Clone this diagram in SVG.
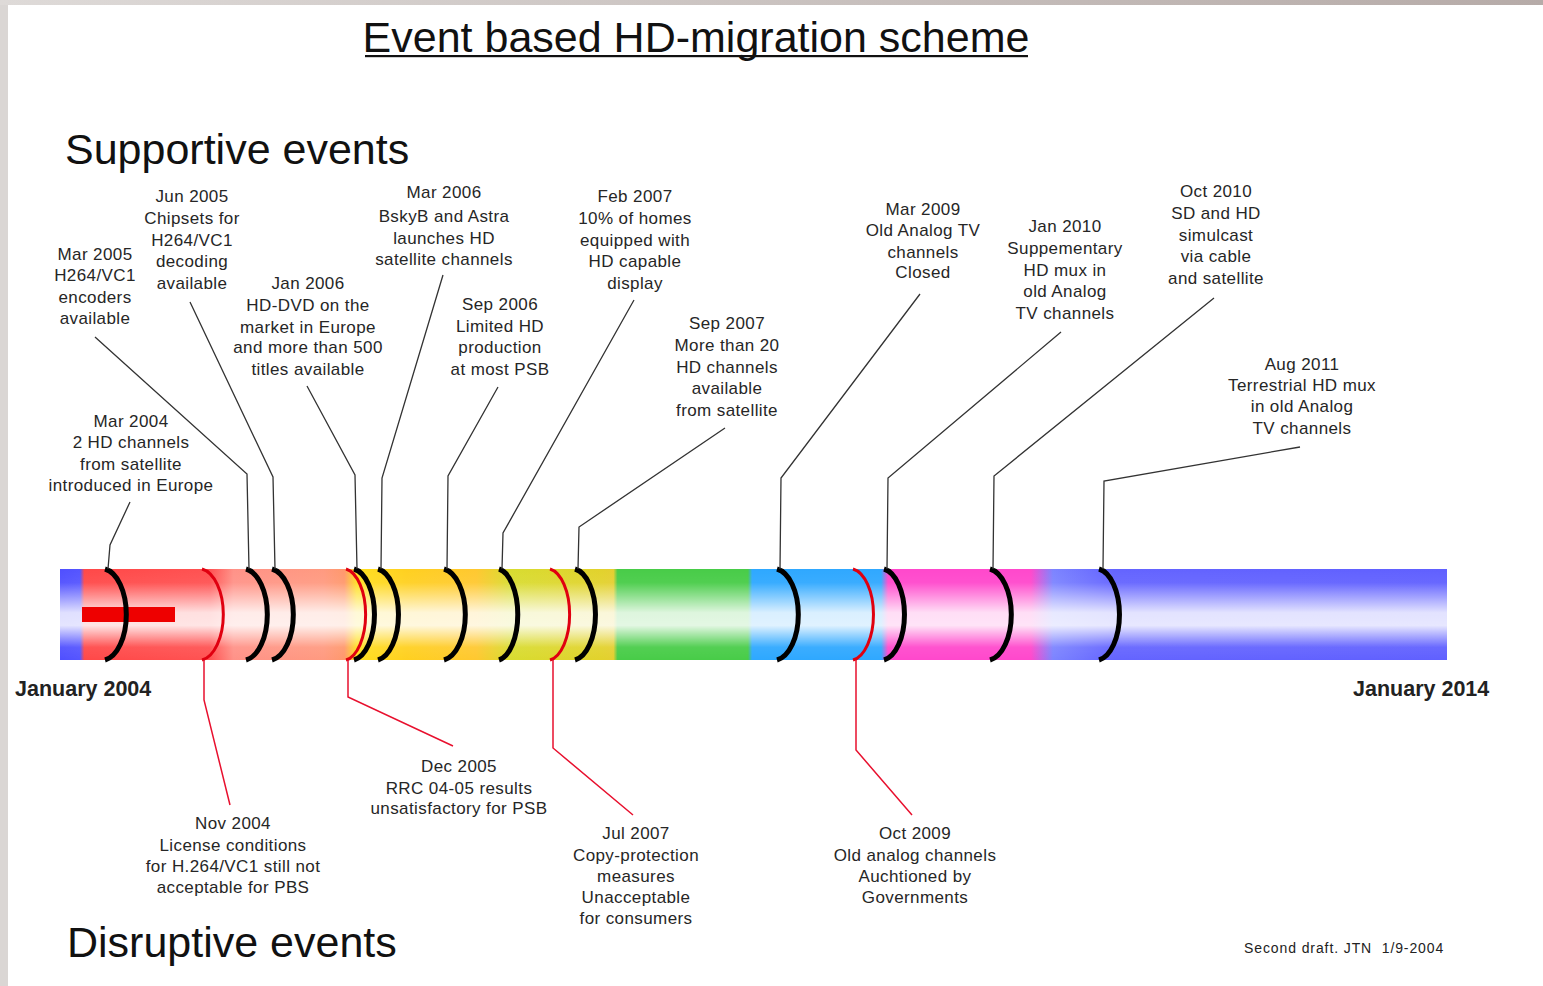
<svg xmlns="http://www.w3.org/2000/svg" width="1543" height="986" viewBox="0 0 1543 986">
  <defs>
    <style>
      .lbl { font-family: "Liberation Sans", Arial, sans-serif; font-size: 17px; letter-spacing: 0.4px; fill: #262626; text-anchor: middle; }
      .head { font-family: "Liberation Sans", Arial, sans-serif; font-size: 43px; fill: #111; }
      .date { font-family: "Liberation Sans", Arial, sans-serif; font-size: 21.5px; font-weight: bold; fill: #222; }
      .note { font-family: "Liberation Sans", Arial, sans-serif; font-size: 14px; letter-spacing: 0.9px; fill: #222; }
      .up { fill: none; stroke: #333; stroke-width: 1.3; }
      .down { fill: none; stroke: #e8102e; stroke-width: 1.5; }
      .arc { fill: none; stroke: #000; stroke-width: 5; }
      .arc-red { fill: none; stroke: #e00010; stroke-width: 3; }
    </style>
    <!-- colour bands of the timeline bar, 2004 to 2014 -->
    <linearGradient id="bands" gradientUnits="userSpaceOnUse" x1="60" y1="0" x2="1447" y2="0">
      <stop offset="0" stop-color="#4f4fff"/>
      <stop offset="0.0145" stop-color="#5555ff"/>
      <stop offset="0.0175" stop-color="#ff4848"/>
      <stop offset="0.108" stop-color="#ff5252"/>
      <stop offset="0.125" stop-color="#ff9288"/>
      <stop offset="0.19" stop-color="#ff9a80"/>
      <stop offset="0.205" stop-color="#ff986c"/>
      <stop offset="0.214" stop-color="#ffe020"/>
      <stop offset="0.25" stop-color="#ffd020"/>
      <stop offset="0.30" stop-color="#ffc830"/>
      <stop offset="0.325" stop-color="#d8dc30"/>
      <stop offset="0.39" stop-color="#e2d22c"/>
      <stop offset="0.399" stop-color="#e4cf30"/>
      <stop offset="0.402" stop-color="#48cc48"/>
      <stop offset="0.496" stop-color="#48cc48"/>
      <stop offset="0.499" stop-color="#2ea8ff"/>
      <stop offset="0.592" stop-color="#30a8ff"/>
      <stop offset="0.597" stop-color="#ff48cc"/>
      <stop offset="0.700" stop-color="#ff48cc"/>
      <stop offset="0.716" stop-color="#7c84ff"/>
      <stop offset="0.76" stop-color="#6464ff"/>
      <stop offset="1" stop-color="#6060ff"/>
    </linearGradient>
    <!-- cylinder highlight across the bar -->
    <linearGradient id="shine" x1="0" y1="0" x2="0" y2="1">
      <stop offset="0" stop-color="#fff" stop-opacity="0"/>
      <stop offset="0.15" stop-color="#fff" stop-opacity="0.05"/>
      <stop offset="0.48" stop-color="#fff" stop-opacity="0.82"/>
      <stop offset="0.62" stop-color="#fff" stop-opacity="0.85"/>
      <stop offset="0.86" stop-color="#fff" stop-opacity="0.06"/>
      <stop offset="1" stop-color="#fff" stop-opacity="0"/>
    </linearGradient>
    <linearGradient id="topEdge" x1="0" y1="0" x2="1" y2="0">
      <stop offset="0" stop-color="#dedad8"/>
      <stop offset="1" stop-color="#b6aba8"/>
    </linearGradient>
  </defs>

  <!-- page frame -->
  <rect x="0" y="0" width="1543" height="986" fill="#dad6d4"/>
  <rect x="0" y="0" width="1543" height="5" fill="url(#topEdge)"/>
  <rect x="8" y="5" width="1535" height="981" fill="#fff"/>

  <!-- title and section headings -->
  <g id="title">
    <text class="head" x="696" y="52" font-size="43.8" text-anchor="middle">Event based HD-migration scheme</text>
    <rect x="365" y="55" width="663" height="2.2" fill="#111"/>
  </g>
  <g id="supportive-heading"><text class="head" x="65" y="164">Supportive events</text></g>
  <g id="disruptive-heading"><text class="head" x="67" y="957">Disruptive events</text></g>

  <!-- timeline bar -->
  <g id="timeline">
    <rect x="60" y="569" width="1387" height="91" fill="url(#bands)"/>
    <rect x="60" y="569" width="1387" height="91" fill="url(#shine)"/>
    <rect x="82" y="607" width="93" height="15" fill="#ee0000"/>
    <text class="date" x="15" y="696">January 2004</text>
    <text class="date" x="1353" y="696">January 2014</text>
  </g>

  <!-- event markers on the bar -->
  <g id="markers">
    <path class="arc" d="M105,569 A25,46 0 0 1 105,660"/>
    <path class="arc" d="M246,569 A25,46 0 0 1 246,660"/>
    <path class="arc" d="M272,569 A25,46 0 0 1 272,660"/>
    <path class="arc" d="M354,569 A24,46 0 0 1 354,660"/>
    <path class="arc" d="M378,569 A24,46 0 0 1 378,660"/>
    <path class="arc" d="M444,569 A25,46 0 0 1 444,660"/>
    <path class="arc" d="M499,569 A22,46 0 0 1 499,660"/>
    <path class="arc" d="M575,569 A24,46 0 0 1 575,660"/>
    <path class="arc" d="M777,569 A25,46 0 0 1 777,660"/>
    <path class="arc" d="M884,569 A24,46 0 0 1 884,660"/>
    <path class="arc" d="M990,569 A25,46 0 0 1 990,660"/>
    <path class="arc" d="M1099,569 A24,46 0 0 1 1099,660"/>
    <path class="arc-red" d="M202,569 A25,46 0 0 1 202,660"/>
    <path class="arc-red" d="M346,569 A23,46 0 0 1 346,660"/>
    <path class="arc-red" d="M550,569 A23,46 0 0 1 550,660"/>
    <path class="arc-red" d="M853,569 A24,46 0 0 1 853,660"/>
  </g>

  <!-- leader lines from labels to the bar -->
  <g id="connectors">
    <path class="up" d="M130,502 L110,545 L108,569"/>
    <path class="up" d="M95,337 L247,474 L249,569"/>
    <path class="up" d="M190,302 L273,477 L275,569"/>
    <path class="up" d="M307,386 L355,475 L357,569"/>
    <path class="up" d="M443,275 L382,478 L381,569"/>
    <path class="up" d="M498,387 L448,476 L447,569"/>
    <path class="up" d="M634,300 L503,533 L502,569"/>
    <path class="up" d="M725,428 L579,527 L578,569"/>
    <path class="up" d="M920,294 L781,478 L780,569"/>
    <path class="up" d="M1061,332 L888,478 L887,569"/>
    <path class="up" d="M1214,298 L994,476 L993,569"/>
    <path class="up" d="M1300,447 L1104,481 L1103,569"/>
    <path class="down" d="M204,660 L204,700 L230,805"/>
    <path class="down" d="M348,660 L348,697 L453,746"/>
    <path class="down" d="M553,660 L553,748 L633,815"/>
    <path class="down" d="M856,660 L856,750 L912,815"/>
  </g>

  <!-- supportive events -->
  <g id="ev-mar2004"><text class="lbl"><tspan x="131" y="427">Mar 2004</tspan><tspan x="131" y="448">2 HD channels</tspan><tspan x="131" y="470">from satellite</tspan><tspan x="131" y="491">introduced in Europe</tspan></text></g>
  <g id="ev-mar2005"><text class="lbl"><tspan x="95" y="260">Mar 2005</tspan><tspan x="95" y="281">H264/VC1</tspan><tspan x="95" y="303">encoders</tspan><tspan x="95" y="324">available</tspan></text></g>
  <g id="ev-jun2005"><text class="lbl"><tspan x="192" y="202">Jun 2005</tspan><tspan x="192" y="224">Chipsets for</tspan><tspan x="192" y="246">H264/VC1</tspan><tspan x="192" y="267">decoding</tspan><tspan x="192" y="289">available</tspan></text></g>
  <g id="ev-jan2006"><text class="lbl"><tspan x="308" y="289">Jan 2006</tspan><tspan x="308" y="311">HD-DVD on the</tspan><tspan x="308" y="333">market in Europe</tspan><tspan x="308" y="353">and more than 500</tspan><tspan x="308" y="375">titles available</tspan></text></g>
  <g id="ev-mar2006"><text class="lbl"><tspan x="444" y="198">Mar 2006</tspan><tspan x="444" y="222">BskyB and Astra</tspan><tspan x="444" y="244">launches HD</tspan><tspan x="444" y="265">satellite channels</tspan></text></g>
  <g id="ev-sep2006"><text class="lbl"><tspan x="500" y="310">Sep 2006</tspan><tspan x="500" y="332">Limited HD</tspan><tspan x="500" y="353">production</tspan><tspan x="500" y="375">at most PSB</tspan></text></g>
  <g id="ev-feb2007"><text class="lbl"><tspan x="635" y="202">Feb 2007</tspan><tspan x="635" y="224">10% of homes</tspan><tspan x="635" y="246">equipped with</tspan><tspan x="635" y="267">HD capable</tspan><tspan x="635" y="289">display</tspan></text></g>
  <g id="ev-sep2007"><text class="lbl"><tspan x="727" y="329">Sep 2007</tspan><tspan x="727" y="351">More than 20</tspan><tspan x="727" y="373">HD channels</tspan><tspan x="727" y="394">available</tspan><tspan x="727" y="416">from satellite</tspan></text></g>
  <g id="ev-mar2009"><text class="lbl"><tspan x="923" y="215">Mar 2009</tspan><tspan x="923" y="236">Old Analog TV</tspan><tspan x="923" y="258">channels</tspan><tspan x="923" y="278">Closed</tspan></text></g>
  <g id="ev-jan2010"><text class="lbl"><tspan x="1065" y="232">Jan 2010</tspan><tspan x="1065" y="254">Suppementary</tspan><tspan x="1065" y="276">HD mux in</tspan><tspan x="1065" y="297">old Analog</tspan><tspan x="1065" y="319">TV channels</tspan></text></g>
  <g id="ev-oct2010"><text class="lbl"><tspan x="1216" y="197">Oct 2010</tspan><tspan x="1216" y="219">SD and HD</tspan><tspan x="1216" y="241">simulcast</tspan><tspan x="1216" y="262">via cable</tspan><tspan x="1216" y="284">and satellite</tspan></text></g>
  <g id="ev-aug2011"><text class="lbl"><tspan x="1302" y="370">Aug 2011</tspan><tspan x="1302" y="391">Terrestrial HD mux</tspan><tspan x="1302" y="412">in old Analog</tspan><tspan x="1302" y="434">TV channels</tspan></text></g>

  <!-- disruptive events -->
  <g id="ev-nov2004"><text class="lbl"><tspan x="233" y="829">Nov 2004</tspan><tspan x="233" y="851">License conditions</tspan><tspan x="233" y="872">for H.264/VC1 still not</tspan><tspan x="233" y="893">acceptable for PBS</tspan></text></g>
  <g id="ev-dec2005"><text class="lbl"><tspan x="459" y="772">Dec 2005</tspan><tspan x="459" y="794">RRC 04-05 results</tspan><tspan x="459" y="814">unsatisfactory for PSB</tspan></text></g>
  <g id="ev-jul2007"><text class="lbl"><tspan x="636" y="839">Jul 2007</tspan><tspan x="636" y="861">Copy-protection</tspan><tspan x="636" y="882">measures</tspan><tspan x="636" y="903">Unacceptable</tspan><tspan x="636" y="924">for consumers</tspan></text></g>
  <g id="ev-oct2009"><text class="lbl"><tspan x="915" y="839">Oct 2009</tspan><tspan x="915" y="861">Old analog channels</tspan><tspan x="915" y="882">Auchtioned by</tspan><tspan x="915" y="903">Governments</tspan></text></g>

  <g id="footer"><text class="note" x="1244" y="953" xml:space="preserve">Second draft. JTN  1/9-2004</text></g>
</svg>
